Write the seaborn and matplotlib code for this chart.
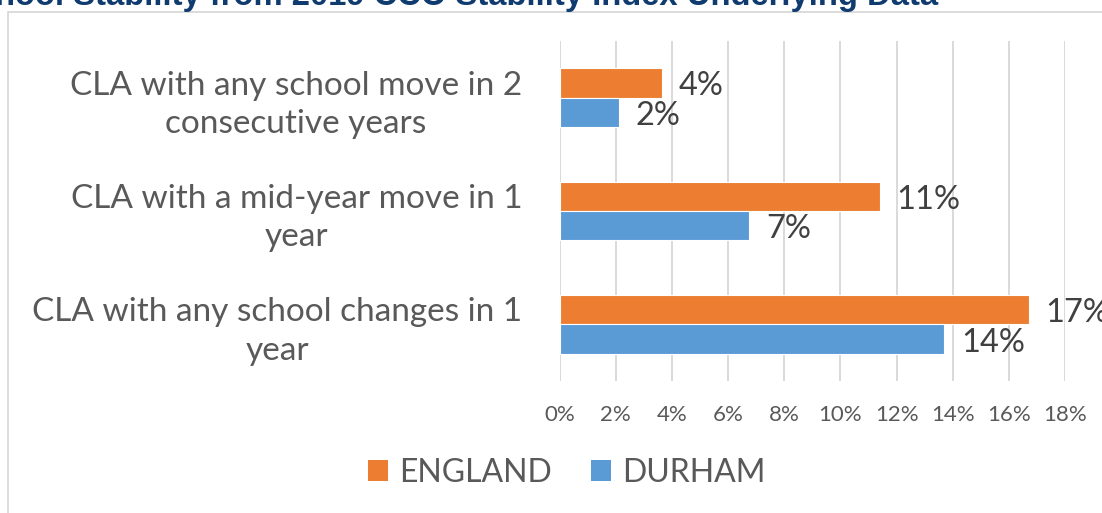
import matplotlib
matplotlib.use("Agg")
import matplotlib.pyplot as plt
import seaborn as sns
import pandas as pd
from matplotlib.patches import Rectangle, Patch
from matplotlib.ticker import PercentFormatter, MultipleLocator

# Data: share of children looked after (CLA) with school moves
categories = [
    "CLA with any school move in 2\nconsecutive years",
    "CLA with a mid-year move in 1\nyear",
    "CLA with any school changes in 1\nyear",
]
series = ["ENGLAND", "DURHAM"]
england = [0.0365, 0.114, 0.167]
durham = [0.021, 0.0676, 0.137]
colors = ["#ED7D31", "#5B9BD5"]
title = "School Stability from 2019 CCO Stability Index Underlying Data"

df = pd.DataFrame({
    "category": categories * 2,
    "series": [series[0]] * len(categories) + [series[1]] * len(categories),
    "value": england + durham,
})

sns.set_theme(style="white")
plt.rcParams["font.family"] = ["Lato", "DejaVu Sans"]

text_grey = "#595959"
label_grey = "#404040"
grid_grey = "#D9D9D9"

fig = plt.figure(figsize=(11.02, 5.13), dpi=100)
W, H = 1102, 513
ax = fig.add_axes([559.7 / W, 1 - 381 / H, (1065 - 559.7) / W, 340 / H])

sns.barplot(
    data=df, y="category", x="value", hue="series", hue_order=series,
    palette=colors, orient="h", width=0.52, saturation=1,
    edgecolor="white", linewidth=0.8, legend=False, ax=ax,
)

ax.set_xlim(0, 0.18)
ax.xaxis.set_major_locator(MultipleLocator(0.02))
ax.xaxis.set_major_formatter(PercentFormatter(1, decimals=0))
ax.grid(axis="x", color=grid_grey, linewidth=1.4)
ax.grid(axis="y", visible=False)
ax.set_axisbelow(True)
for s in ax.spines.values():
    s.set_visible(False)
ax.set_xlabel("")
ax.set_ylabel("")
ax.tick_params(axis="x", length=0, pad=17, labelsize=16, labelcolor=text_grey)
ax.tick_params(axis="y", length=0, pad=27, labelsize=24, labelcolor=text_grey)
for lbl in ax.get_yticklabels():
    lbl.set_multialignment("center")
    lbl.set_linespacing(1.35)

for cont in ax.containers:
    texts = ax.bar_label(cont, labels=[f"{v * 100:.0f}%" for v in cont.datavalues],
                         padding=12, fontsize=23.5, color=label_grey)
    for t in texts:
        t.xyann = (12, -2.5)

# Chart frame
fig.patches.append(Rectangle((8 / W, -0.1), 1.2, 1.1 - 12 / H, transform=fig.transFigure,
                             fill=False, edgecolor=grid_grey, linewidth=1.3))

# Title line (runs off the top of the canvas)
fig.text(938 / W, 1 - 5 / H, title, ha="right", va="baseline", fontsize=23.6,
         fontweight="bold", color="#0F3B6F", family=["Liberation Sans"])

handles = [Patch(facecolor=c, edgecolor="none", label=s) for s, c in zip(series, colors)]
fig.legend(handles=handles, loc="center", bbox_to_anchor=(566.7 / W, 1 - 473 / H),
           ncol=2, frameon=False, fontsize=23, handlelength=0.65, handleheight=0.65,
           handletextpad=0.35, columnspacing=1.2, labelcolor=text_grey)

fig.savefig("out.png", dpi=100)
